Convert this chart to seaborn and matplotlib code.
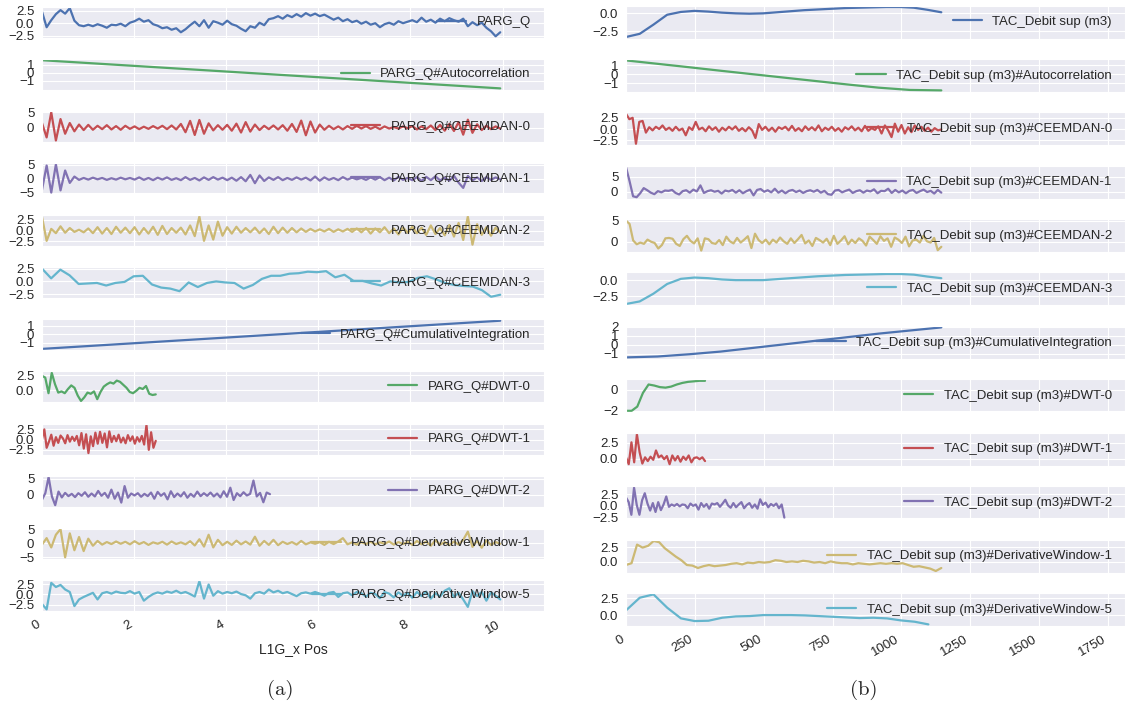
import numpy as np
import matplotlib
matplotlib.use("Agg")
import matplotlib.pyplot as plt
import seaborn as sns

# ---------------- data: panel (a), x = L1G_x Pos ----------------
left_end_full = 9.95
left_end_dwt01 = 2.47
left_end_dwt2 = 4.95

parg_q = [2.3, -0.8, 0.6, 1.8, 2.6, 1.9, 3.0, 0.5, -0.4, -0.6,
          -0.3, -0.6, -0.2, -0.5, -0.9, -0.3, -0.4, -0.1, -0.6, 0.1,
          0.4, 0.9, 0.3, 0.6, -0.2, -0.5, -1.0, -0.8, -1.3, -1.0,
          -1.8, -1.2, -0.4, 0.3, -0.6, 0.6, -0.9, 0.4, 0.1, -0.3,
          0.5, -0.2, -0.5, -1.1, -1.6, -0.6, -0.9, 0.1, -0.4, 0.8,
          1.0, 1.4, 0.9, 1.6, 1.2, 1.8, 1.3, 2.0, 1.5, 1.9,
          1.4, 1.7, 1.2, 0.7, 1.1, 0.4, 0.8, 0.2, 0.5, -0.1,
          0.3, -0.3, 0.0, -0.8, -0.2, 0.1, -0.3, 0.4, 0.0, 0.3,
          0.6, 0.2, 1.1, 0.3, 0.7, 0.1, 0.9, 0.4, 1.0, 0.6,
          0.3, 0.9, -0.6, 0.2, -0.4, 0.1, -0.9, -1.6, -2.6, -1.8]
parg_autocorr = [1.6, -2.0]
parg_ceemdan0 = [1.5, -3.2, 5.0, -4.2, 2.8, -2.0, 1.5, -1.2, 1.0, -0.8,
                 0.9, -0.7, 0.6, -0.5, 0.8, -0.6, 0.5, -0.7, 0.6, -0.4,
                 0.4, -0.5, 0.3, -0.4, 0.5, -0.3, 0.6, -0.5, 0.7, -0.6,
                 1.2, -1.5, 2.2, -2.4, 2.5, -2.0, 1.4, -0.9, 0.8, -0.7,
                 0.9, -1.0, 1.3, -1.6, 1.8, -1.3, 1.0, -0.8, 0.6, -0.5,
                 0.7, -0.6, 0.8, -1.0, 1.2, -1.4, 2.3, -2.5, 2.0, -1.6,
                 1.0, -0.7, 0.6, -0.5, 0.4, -0.6, 0.5, -0.4, 0.6, -0.3,
                 0.5, -0.4, 0.3, -0.5, 0.4, -0.3, 0.2, -0.3, 0.4, -0.2,
                 0.5, -0.6, 0.4, -0.5, 0.7, -0.8, 0.9, -1.0, 1.2, -1.1,
                 1.8, -2.3, 2.6, -1.7, 1.1, -0.8, 0.6, -0.5, 0.4, -0.3]
parg_ceemdan1 = [-4.0, 4.8, -5.0, 5.2, -4.2, 3.0, -1.5, 0.8, -0.4, 0.3,
                 -0.3, 0.4, -0.2, 0.3, -0.4, 0.2, -0.3, 0.4, -0.2, 0.3,
                 -0.3, 0.5, -0.4, 0.3, -0.5, 0.4, -0.3, 0.5, -0.4, 0.2,
                 -0.5, 0.6, -0.4, 0.3, -0.6, 0.5, -0.4, 0.6, -0.3, 0.4,
                 -0.5, 0.4, -0.7, 0.6, -0.9, 1.4, -1.6, 1.2, -0.8, 0.5,
                 -0.4, 0.6, -0.5, 0.3, -0.4, 0.5, -0.3, 0.4, -0.6, 0.8,
                 -0.7, 0.5, -0.4, 0.3, -0.5, 0.6, -0.3, 0.4, -0.2, 0.3,
                 -0.4, 0.5, -0.3, 0.6, -0.5, 0.4, -0.6, 0.7, -0.4, 0.3,
                 -0.5, 0.6, -0.8, 0.7, -0.5, 0.9, -0.6, 0.4, -0.7, 1.1,
                 -1.4, -3.3, 1.0, -0.6, 0.5, -0.8, 0.6, -0.4, 0.5, -0.2]
parg_ceemdan2 = [3.2, -2.4, 0.4, -0.6, 1.0, -0.5, 0.6, -0.3, 0.2, -0.4,
                 0.5, -0.6, 0.8, -0.7, 0.6, -0.8, 0.9, -0.5, 0.7, -0.6,
                 0.8, -0.9, 0.6, -0.7, 0.9, -1.0, 1.1, -0.8, 0.6, -0.5,
                 0.7, -0.9, 1.2, -1.3, 3.3, -2.4, 1.2, -2.1, 2.1, -1.2,
                 0.8, -0.7, 0.9, -0.5, 0.6, -0.4, 0.7, -0.6, 0.5, -0.8,
                 0.9, -0.6, 0.7, -0.5, 0.6, -0.4, 0.5, -0.3, 0.4, -0.2,
                 0.3, -0.2, 0.4, -0.3, 0.3, -0.2, 0.4, -0.3, 0.5, -0.4,
                 0.6, -0.7, 0.5, -0.4, 0.8, -0.6, 0.5, -0.9, 0.7, -0.5,
                 0.9, -0.6, 0.7, -1.0, 1.2, -0.8, 0.6, -1.1, 1.3, -1.4,
                 1.8, -2.2, 3.3, -3.3, 1.5, -1.0, 0.8, -1.2, 0.7, -0.4]
parg_ceemdan3 = [2.5, 0.6, 2.3, 1.2, -0.5, -0.4, -0.3, -0.8, -0.3, -0.1,
                 1.0, 1.1, -0.6, -1.2, -1.4, -1.9, -0.2, -1.1, -0.3, 0.0,
                 -0.2, -0.3, -1.4, -0.7, 0.5, 1.1, 1.1, 1.5, 1.6, 1.9,
                 1.8, 2.0, 0.8, 1.3, 0.1, 0.1, -0.4, -0.8, 0.0, -0.2,
                 -0.1, 0.7, 1.0, 0.4, -0.3, -0.7, -0.9, -1.0, -1.7, -3.0,
                 -2.6]
parg_cumint = [-1.7, 1.6]
parg_dwt0 = [2.4, 2.1, -0.5, 2.9, 1.0, -0.4, -0.2, -0.5, 0.2, 0.8,
             0.4, -0.9, -1.8, -1.2, -0.4, -0.6, -0.2, -1.5, -0.3, 0.6,
             1.0, 1.3, 1.1, 1.6, 1.4, 0.9, 0.4, -0.3, -0.5, -0.1,
             0.4, 0.2, 0.7, -0.6, -0.8, -0.7]
parg_dwt1 = [0.2, 2.5, -2.0, -0.5, 1.2, -1.5, 0.6, -0.8, 1.0, 0.3,
             -0.9, 1.1, -0.5, 0.7, -0.3, 0.9, -1.4, 1.6, -2.2, 1.3,
             -3.3, 0.8, -1.6, 1.7, -1.0, 1.9, -0.8, 1.5, -1.9, 2.0,
             -0.6, 0.9, -0.4, 1.2, -0.7, 0.5, -0.9, 1.1, -0.3, 0.8,
             -1.0, 0.6, -0.5, 0.9, -1.2, 3.6, -2.5, 1.8, -2.0, -0.3]
parg_dwt2 = [-1.5, 0.5, 5.5, -0.5, -3.2, 1.0, -0.8, 0.6, -0.4, 0.3,
             -0.7, 0.5, -0.3, 0.8, -0.6, 0.4, -0.5, 1.2, -0.3, 0.6,
             -0.9, 1.6, -1.2, 0.7, -2.4, 2.7, -0.9, 0.4, -0.2, 0.5,
             -0.6, 0.3, -0.4, 0.7, -1.2, 0.9, -0.3, 0.5, -1.4, 1.1,
             -0.7, 0.4, -0.5, 0.8, -0.9, 0.3, -0.6, 1.0, -0.4, 0.5,
             -0.3, 0.7, -0.5, 0.4, -0.8, 1.1, -0.6, 2.2, -1.6, 0.5,
             -0.4, 0.8, -0.2, 0.3, 4.4, -0.5, 0.6, -2.3, 0.7, 0.2]
parg_dw1 = [-0.5, 1.8, -1.5, 3.0, 5.0, -5.0, 3.5, -2.5, 2.2, -2.8,
            1.6, -0.9, 0.8, -0.5, 0.4, -0.3, 0.6, -0.2, 0.5, -0.4,
            0.7, -0.3, 0.4, -0.6, 0.3, -0.2, 0.5, -0.5, 0.6, -0.3,
            0.3, -0.4, 0.7, -0.8, 1.4, -1.2, 3.0, -1.5, 1.2, -0.7,
            0.5, -0.6, 0.9, -0.4, 0.6, -0.5, 2.3, -0.9, 0.8, -0.6,
            1.2, -0.7, 0.5, -0.3, 0.4, -0.5, 0.8, -0.4, 0.3, -0.2,
            0.4, -0.6, 0.5, -0.3, 0.6, 1.8, -0.4, 0.3, -0.5, 0.4,
            -0.3, 0.5, -0.4, 0.3, -0.2, 0.6, -0.5, 0.4, -0.3, 0.5,
            -0.6, 0.8, -0.4, 0.6, -0.9, 1.1, -0.5, 0.4, -0.7, 0.6,
            -0.5, 1.2, 4.1, -1.3, 0.9, -1.6, 1.0, -0.6, 0.4, -0.2]
parg_dw5 = [-2.3, -3.6, 2.8, 1.8, 2.3, 1.2, 0.6, -2.8, -1.2, -0.6,
            -0.1, 0.4, -1.2, 0.3, 0.6, 0.2, 0.7, 0.4, 0.3, 0.8,
            0.2, 0.6, -1.5, -0.6, 0.1, 0.5, 0.2, 0.7, 0.4, 0.9,
            0.3, 0.6, 0.1, -0.5, 3.2, -1.0, 2.4, -0.3, 0.8, 0.2,
            0.6, 0.3, 0.7, 0.1, -0.2, -1.0, 0.3, 0.6, 0.2, 1.2,
            0.5, 0.9, 0.3, 0.6, 0.1, -0.4, 0.3, 0.5, 0.2, 0.6,
            0.2, -0.3, 0.4, 0.6, -0.6, 0.3, 0.5, -0.2, 0.6, 0.3,
            -0.5, 0.4, 0.1, -0.9, 0.6, 0.2, -0.7, 0.5, -0.3, 0.4,
            -0.8, 0.6, -0.4, 0.7, -1.0, 0.3, -0.5, 0.9, 1.5, -0.6,
            0.4, -1.2, -3.0, 0.8, -0.4, 0.6, -1.5, 0.5, -0.3, -1.2]

# ---------------- data: panel (b), x = sample index ----------------
right_end_full = 1145
right_end_dwt01 = 287
right_end_dwt2 = 575
right_end_dw5 = 1098

tac = [-3.35, -2.9, -1.6, -0.2, 0.2, 0.35, 0.25, 0.1, 0.0, -0.05,
       0.0, 0.15, 0.3, 0.45, 0.55, 0.65, 0.75, 0.8, 0.85, 0.9,
       0.9, 0.8, 0.5, 0.15]
tac_autocorr = [1.5, 1.13, 0.76, 0.38, 0.01, -0.36, -0.73, -1.1, -1.45, -1.7, -1.75]
tac_ceemdan0 = [3.4, 2.2, 2.5, -3.3, 1.6, 1.8, -0.8, 0.4, -0.3, 0.5,
                0.0, 0.8, -0.2, 0.3, -0.4, 0.5, -0.3, 0.1, -1.4, 0.4,
                -0.2, 1.6, -0.1, 0.3, -0.5, 0.6, -0.2, 0.4, -0.6, 0.3,
                -0.3, 0.5, -0.1, 0.6, -0.4, 0.2, -0.5, 0.4, -0.3, -2.0,
                1.1, -0.2, 0.5, -0.4, 0.3, -0.6, 0.4, 0.0, 0.5, -0.3,
                0.7, -0.4, 0.2, -0.5, 0.6, -0.2, 0.4, -0.3, 0.8, -0.5,
                0.3, -0.2, 0.5, -0.4, 0.2, -0.6, 0.4, -0.1, 0.6, -0.3,
                0.3, -0.5, 0.7, -0.4, 0.2, -0.2, 0.6, -1.0, 0.8, -0.3,
                -1.8, 1.2, -0.6, 0.9, -1.0, 0.4, -0.7, 0.8, -0.2, 0.5,
                -0.4, 0.3, -0.6, 0.2, -0.3, -0.1]
tac_ceemdan1 = [8.1, 3.5, -1.5, -1.8, -0.5, 1.2, 0.5, -0.3, -0.8, 0.2,
                -0.2, 0.4, 0.3, 0.6, -0.4, -0.9, 0.2, 0.5, -0.3, 0.7,
                0.1, 2.1, -0.4, 0.2, 0.5, 0.0, 0.3, -0.6, 0.4, 0.1,
                0.6, -0.3, 0.5, -0.5, 0.2, 0.7, -1.2, 0.6, 0.9, 0.0,
                0.5, -0.2, 1.0, -0.3, 0.4, -0.5, 0.3, 0.6, -0.1, 0.4,
                -0.4, 0.2, 0.5, 0.0, 0.6, -0.3, 0.3, -0.8, -1.0, 0.4,
                0.6, -0.2, 0.3, 0.7, -0.4, 0.2, 0.5, -0.3, 0.4, 0.1,
                0.8, -0.5, 0.3, 0.2, 1.0, -0.4, 0.6, -0.2, 0.4, -0.5,
                0.3, 0.6, -0.4, 0.2, 0.7, -0.1, 0.3, -0.6, 0.6, -0.3]
tac_ceemdan2 = [5.0, 4.2, 0.3, -0.6, -0.2, -0.5, 0.5, 0.0, -0.3, -1.6,
                -0.8, 0.8, 0.9, 0.7, -0.5, -1.0, 0.6, 1.4, 0.2, -0.4,
                0.8, -2.1, 0.8, 0.6, -0.3, -0.5, 0.4, -0.8, 1.2, 0.1,
                -0.4, 0.9, -0.2, 0.5, 1.3, -1.5, 1.9, 0.4, -0.3, 0.5,
                -0.6, 0.5, -0.2, 1.0, 0.1, -0.5, 0.8, -0.3, 0.6, 1.6,
                -0.4, 0.3, -1.0, 0.9, 0.4, -0.2, 0.7, -0.8, 1.4, -0.5,
                0.3, 1.3, -0.6, 0.5, -0.3, 0.8, 0.2, -0.9, 1.2, 0.4,
                -0.5, 1.3, 0.2, 0.8, -1.2, 1.0, 0.5, -0.3, 1.2, -1.1,
                0.3, 0.5, -0.2, 1.4, 0.1, -0.2, 0.9, -2.0, -1.2]
tac_ceemdan3 = [-3.7, -3.3, -2.1, -0.6, 0.2, 0.4, 0.3, 0.1, 0.0, 0.0,
                0.0, 0.15, 0.3, 0.45, 0.6, 0.7, 0.8, 0.85, 0.9, 0.95,
                0.95, 0.85, 0.55, 0.3]
tac_cumint = [-1.4, -1.3, -1.05, -0.75, -0.35, 0.05, 0.45, 0.85, 1.25, 1.6, 1.95]
tac_dwt0 = [-2.0, -2.0, -1.6, -0.3, 0.5, 0.4, 0.25, 0.2, 0.3, 0.5,
            0.65, 0.75, 0.8, 0.85, 0.85]
tac_dwt1 = [0.2, -0.9, 2.6, -0.6, 3.9, 1.0, -0.8, 0.2, -0.4, 0.3,
            -0.2, 1.3, 0.2, 0.5, -0.1, 0.4, -0.9, 0.5, -0.3, 0.4,
            -0.5, 0.3, -0.2, 0.5, -0.6, 0.1, 0.2, -0.1, 0.2, -0.4]
tac_dwt2 = [1.8, 0.8, -1.9, 3.9, 0.2, -1.9, 1.2, 2.7, 0.5, -1.0,
            0.6, -1.3, 0.8, -0.9, 0.3, 2.0, -0.2, 0.3, 0.0, 0.4,
            -0.1, 0.3, 0.2, -0.5, 0.5, 0.0, 0.3, -0.8, 0.6, -0.2,
            0.4, -0.6, 0.5, 0.3, 0.6, -0.2, 0.5, 1.3, 0.1, -0.4,
            0.6, -0.3, 0.3, 0.8, -0.5, 0.2, 0.6, -0.4, 0.3, -0.6,
            1.4, 0.2, 0.7, -0.3, 0.4, 0.0, 0.5, -0.5, 0.3, -2.5]
tac_dw1 = [-0.5, -0.2, 2.9, 2.4, 2.7, 3.5, 3.3, 2.3, 1.6, 0.9,
           0.3, -0.5, -0.6, -1.0, -0.7, -0.5, -0.7, -0.6, -0.5, -0.3,
           -0.2, -0.4, -0.1, -0.2, 0.0, -0.1, 0.0, 0.3, 0.2, 0.0,
           0.1, 0.0, 0.2, 0.1, -0.1, 0.0, -0.2, 0.1, -0.1, -0.2,
           -0.2, -0.4, -0.2, -0.3, -0.4, -0.3, -0.2, -0.3, -0.2, -0.3,
           -0.2, -0.5, -0.8, -0.7, -0.9, -1.1, -1.5, -1.0]
tac_dw5 = [0.7, 2.6, 3.1, 1.1, -0.5, -0.9, -0.85, -0.4, -0.2, -0.15,
           0.0, 0.0, 0.0, -0.05, -0.15, -0.25, -0.35, -0.45, -0.4, -0.5,
           -0.8, -1.0, -1.4]

left_series = [
    ("PARG_Q", parg_q, left_end_full, [-2.5, 0.0, 2.5]),
    ("PARG_Q#Autocorrelation", parg_autocorr, left_end_full, [-1, 0, 1]),
    ("PARG_Q#CEEMDAN-0", parg_ceemdan0, left_end_full, [0, 5]),
    ("PARG_Q#CEEMDAN-1", parg_ceemdan1, left_end_full, [-5, 0, 5]),
    ("PARG_Q#CEEMDAN-2", parg_ceemdan2, left_end_full, [-2.5, 0.0, 2.5]),
    ("PARG_Q#CEEMDAN-3", parg_ceemdan3, left_end_full, [-2.5, 0.0, 2.5]),
    ("PARG_Q#CumulativeIntegration", parg_cumint, left_end_full, [-1, 0, 1]),
    ("PARG_Q#DWT-0", parg_dwt0, left_end_dwt01, [0.0, 2.5]),
    ("PARG_Q#DWT-1", parg_dwt1, left_end_dwt01, [-2.5, 0.0, 2.5]),
    ("PARG_Q#DWT-2", parg_dwt2, left_end_dwt2, [0, 5]),
    ("PARG_Q#DerivativeWindow-1", parg_dw1, left_end_full, [-5, 0, 5]),
    ("PARG_Q#DerivativeWindow-5", parg_dw5, left_end_full, [-2.5, 0.0, 2.5]),
]
right_series = [
    ("TAC_Debit sup (m3)", tac, right_end_full, [-2.5, 0.0]),
    ("TAC_Debit sup (m3)#Autocorrelation", tac_autocorr, right_end_full, [-1, 0, 1]),
    ("TAC_Debit sup (m3)#CEEMDAN-0", tac_ceemdan0, right_end_full, [-2.5, 0.0, 2.5]),
    ("TAC_Debit sup (m3)#CEEMDAN-1", tac_ceemdan1, right_end_full, [0, 5]),
    ("TAC_Debit sup (m3)#CEEMDAN-2", tac_ceemdan2, right_end_full, [0, 5]),
    ("TAC_Debit sup (m3)#CEEMDAN-3", tac_ceemdan3, right_end_full, [-2.5, 0.0]),
    ("TAC_Debit sup (m3)#CumulativeIntegration", tac_cumint, right_end_full, [-1, 0, 1, 2]),
    ("TAC_Debit sup (m3)#DWT-0", tac_dwt0, right_end_dwt01, [-2, 0]),
    ("TAC_Debit sup (m3)#DWT-1", tac_dwt1, right_end_dwt01, [0.0, 2.5]),
    ("TAC_Debit sup (m3)#DWT-2", tac_dwt2, right_end_dwt2, [-2.5, 0.0, 2.5]),
    ("TAC_Debit sup (m3)#DerivativeWindow-1", tac_dw1, right_end_full, [0.0, 2.5]),
    ("TAC_Debit sup (m3)#DerivativeWindow-5", tac_dw5, right_end_dw5, [0.0, 2.5]),
]

# old seaborn "deep" colours
colors = ["#4C72B0", "#55A868", "#C44E52", "#8172B2", "#CCB974", "#64B5CD"]

sns.set_style("darkgrid")
plt.rcParams["font.family"] = ["Liberation Sans", "DejaVu Sans"]

W, H = 1125, 713
fig = plt.figure(figsize=(W / 100, H / 100), dpi=100)


def draw_column(series, left_px, right_px, top_px, pitch_px, height_px,
                xlim, xticks, xlabel=None):
    axes = []
    for i, (name, vals, x_end, yticks) in enumerate(series):
        top = top_px + i * pitch_px
        rect = [left_px / W, 1 - (top + height_px) / H,
                (right_px - left_px) / W, height_px / H]
        ax = fig.add_axes(rect, sharex=axes[0] if axes else None)
        x = np.linspace(0, x_end, len(vals))
        sns.lineplot(x=x, y=vals, ax=ax, color=colors[i % 6], lw=1.6,
                     label=name, sort=False)
        ax.set_yticks(yticks)
        ax.set_ylabel("")
        ax.tick_params(axis="y", labelsize=9.5, pad=2)
        ax.legend(loc="center right", frameon=False, fontsize=9.5,
                  handlelength=2.2, borderaxespad=0.6)
        axes.append(ax)
    axes[0].set_xlim(*xlim)
    axes[0].set_xticks(xticks)
    for ax in axes[:-1]:
        ax.tick_params(axis="x", labelbottom=False)
        ax.set_xlabel("")
    bottom = axes[-1]
    bottom.tick_params(axis="x", labelsize=9.5, pad=2)
    plt.setp(bottom.get_xticklabels(), rotation=30, ha="right")
    bottom.set_xlabel(xlabel if xlabel else "", fontsize=10)
    return axes


draw_column(left_series, 42, 544, 6.7, 52.1, 31,
            (0, 10.9), [0, 2, 4, 6, 8, 10], xlabel="L1G_x Pos")
draw_column(right_series, 626, 1125, 5.5, 53.4, 33,
            (0, 1812), [0, 250, 500, 750, 1000, 1250, 1500, 1750])

fig.text(280 / W, 1 - 690 / H, "(a)", fontfamily="cmr10", fontsize=15,
         ha="center", va="center")
fig.text(864 / W, 1 - 690 / H, "(b)", fontfamily="cmr10", fontsize=15,
         ha="center", va="center")

fig.savefig("out.png", dpi=100)
